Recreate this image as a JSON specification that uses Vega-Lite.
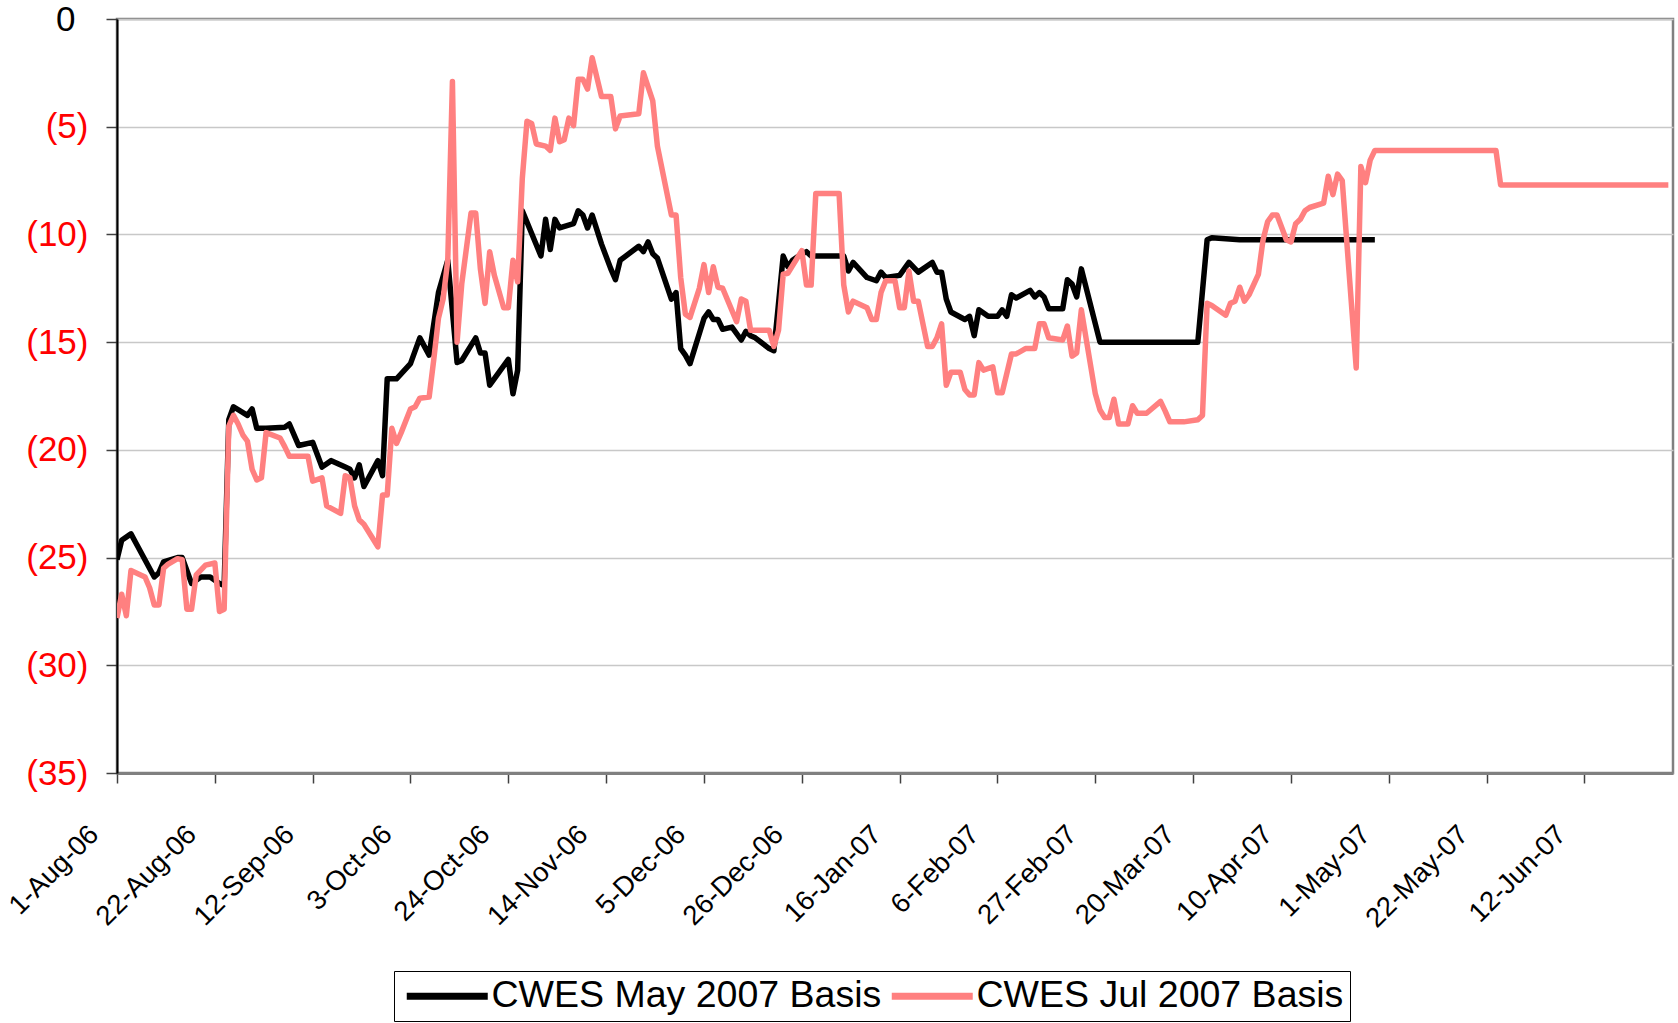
{
  "$schema": "https://vega.github.io/schema/vega-lite/v6.json",
  "width": 1556,
  "height": 754,
  "autosize": "none",
  "padding": {"left": 117, "top": 19, "right": 5, "bottom": 250},
  "background": "white",
  "config": {
    "font": "Liberation Sans",
    "view": {"stroke": "#808080", "strokeWidth": 2.5}
  },
  "data": {
    "values": [
      {"series": "CWES May 2007 Basis", "date": "2006-08-01", "basis": -25.1},
      {"series": "CWES May 2007 Basis", "date": "2006-08-02", "basis": -24.2},
      {"series": "CWES May 2007 Basis", "date": "2006-08-04", "basis": -23.9},
      {"series": "CWES May 2007 Basis", "date": "2006-08-05", "basis": -24.3},
      {"series": "CWES May 2007 Basis", "date": "2006-08-07", "basis": -25.1},
      {"series": "CWES May 2007 Basis", "date": "2006-08-09", "basis": -25.9},
      {"series": "CWES May 2007 Basis", "date": "2006-08-10", "basis": -25.7},
      {"series": "CWES May 2007 Basis", "date": "2006-08-11", "basis": -25.2},
      {"series": "CWES May 2007 Basis", "date": "2006-08-14", "basis": -25.0},
      {"series": "CWES May 2007 Basis", "date": "2006-08-15", "basis": -25.0},
      {"series": "CWES May 2007 Basis", "date": "2006-08-17", "basis": -26.2},
      {"series": "CWES May 2007 Basis", "date": "2006-08-19", "basis": -25.9},
      {"series": "CWES May 2007 Basis", "date": "2006-08-21", "basis": -25.9},
      {"series": "CWES May 2007 Basis", "date": "2006-08-23", "basis": -26.2},
      {"series": "CWES May 2007 Basis", "date": "2006-08-24", "basis": -26.3},
      {"series": "CWES May 2007 Basis", "date": "2006-08-25", "basis": -18.6},
      {"series": "CWES May 2007 Basis", "date": "2006-08-26", "basis": -18.0},
      {"series": "CWES May 2007 Basis", "date": "2006-08-29", "basis": -18.4},
      {"series": "CWES May 2007 Basis", "date": "2006-08-30", "basis": -18.1},
      {"series": "CWES May 2007 Basis", "date": "2006-08-31", "basis": -19.0},
      {"series": "CWES May 2007 Basis", "date": "2006-09-02", "basis": -19.0},
      {"series": "CWES May 2007 Basis", "date": "2006-09-06", "basis": -18.95},
      {"series": "CWES May 2007 Basis", "date": "2006-09-07", "basis": -18.8},
      {"series": "CWES May 2007 Basis", "date": "2006-09-09", "basis": -19.8},
      {"series": "CWES May 2007 Basis", "date": "2006-09-12", "basis": -19.65},
      {"series": "CWES May 2007 Basis", "date": "2006-09-14", "basis": -20.8},
      {"series": "CWES May 2007 Basis", "date": "2006-09-16", "basis": -20.5},
      {"series": "CWES May 2007 Basis", "date": "2006-09-19", "basis": -20.8},
      {"series": "CWES May 2007 Basis", "date": "2006-09-20", "basis": -20.9},
      {"series": "CWES May 2007 Basis", "date": "2006-09-21", "basis": -21.3},
      {"series": "CWES May 2007 Basis", "date": "2006-09-22", "basis": -20.7},
      {"series": "CWES May 2007 Basis", "date": "2006-09-23", "basis": -21.7},
      {"series": "CWES May 2007 Basis", "date": "2006-09-26", "basis": -20.5},
      {"series": "CWES May 2007 Basis", "date": "2006-09-27", "basis": -21.2},
      {"series": "CWES May 2007 Basis", "date": "2006-09-28", "basis": -16.7},
      {"series": "CWES May 2007 Basis", "date": "2006-09-30", "basis": -16.7},
      {"series": "CWES May 2007 Basis", "date": "2006-10-03", "basis": -16.0},
      {"series": "CWES May 2007 Basis", "date": "2006-10-05", "basis": -14.8},
      {"series": "CWES May 2007 Basis", "date": "2006-10-07", "basis": -15.6},
      {"series": "CWES May 2007 Basis", "date": "2006-10-09", "basis": -12.7},
      {"series": "CWES May 2007 Basis", "date": "2006-10-11", "basis": -11.2},
      {"series": "CWES May 2007 Basis", "date": "2006-10-13", "basis": -15.95},
      {"series": "CWES May 2007 Basis", "date": "2006-10-14", "basis": -15.85},
      {"series": "CWES May 2007 Basis", "date": "2006-10-17", "basis": -14.8},
      {"series": "CWES May 2007 Basis", "date": "2006-10-18", "basis": -15.5},
      {"series": "CWES May 2007 Basis", "date": "2006-10-19", "basis": -15.5},
      {"series": "CWES May 2007 Basis", "date": "2006-10-20", "basis": -17.0},
      {"series": "CWES May 2007 Basis", "date": "2006-10-24", "basis": -15.8},
      {"series": "CWES May 2007 Basis", "date": "2006-10-25", "basis": -17.4},
      {"series": "CWES May 2007 Basis", "date": "2006-10-26", "basis": -16.3},
      {"series": "CWES May 2007 Basis", "date": "2006-10-27", "basis": -8.9},
      {"series": "CWES May 2007 Basis", "date": "2006-10-31", "basis": -11.0},
      {"series": "CWES May 2007 Basis", "date": "2006-11-01", "basis": -9.3},
      {"series": "CWES May 2007 Basis", "date": "2006-11-02", "basis": -10.7},
      {"series": "CWES May 2007 Basis", "date": "2006-11-03", "basis": -9.3},
      {"series": "CWES May 2007 Basis", "date": "2006-11-04", "basis": -9.7},
      {"series": "CWES May 2007 Basis", "date": "2006-11-07", "basis": -9.5},
      {"series": "CWES May 2007 Basis", "date": "2006-11-08", "basis": -8.9},
      {"series": "CWES May 2007 Basis", "date": "2006-11-09", "basis": -9.1},
      {"series": "CWES May 2007 Basis", "date": "2006-11-10", "basis": -9.7},
      {"series": "CWES May 2007 Basis", "date": "2006-11-11", "basis": -9.1},
      {"series": "CWES May 2007 Basis", "date": "2006-11-13", "basis": -10.45},
      {"series": "CWES May 2007 Basis", "date": "2006-11-15", "basis": -11.6},
      {"series": "CWES May 2007 Basis", "date": "2006-11-16", "basis": -12.1},
      {"series": "CWES May 2007 Basis", "date": "2006-11-17", "basis": -11.2},
      {"series": "CWES May 2007 Basis", "date": "2006-11-21", "basis": -10.55},
      {"series": "CWES May 2007 Basis", "date": "2006-11-22", "basis": -10.8},
      {"series": "CWES May 2007 Basis", "date": "2006-11-23", "basis": -10.35},
      {"series": "CWES May 2007 Basis", "date": "2006-11-24", "basis": -10.9},
      {"series": "CWES May 2007 Basis", "date": "2006-11-25", "basis": -11.1},
      {"series": "CWES May 2007 Basis", "date": "2006-11-28", "basis": -13.0},
      {"series": "CWES May 2007 Basis", "date": "2006-11-29", "basis": -12.7},
      {"series": "CWES May 2007 Basis", "date": "2006-11-30", "basis": -15.3},
      {"series": "CWES May 2007 Basis", "date": "2006-12-01", "basis": -15.6},
      {"series": "CWES May 2007 Basis", "date": "2006-12-02", "basis": -16.0},
      {"series": "CWES May 2007 Basis", "date": "2006-12-05", "basis": -13.9},
      {"series": "CWES May 2007 Basis", "date": "2006-12-06", "basis": -13.6},
      {"series": "CWES May 2007 Basis", "date": "2006-12-07", "basis": -13.95},
      {"series": "CWES May 2007 Basis", "date": "2006-12-08", "basis": -13.95},
      {"series": "CWES May 2007 Basis", "date": "2006-12-09", "basis": -14.4},
      {"series": "CWES May 2007 Basis", "date": "2006-12-11", "basis": -14.3},
      {"series": "CWES May 2007 Basis", "date": "2006-12-13", "basis": -14.9},
      {"series": "CWES May 2007 Basis", "date": "2006-12-14", "basis": -14.5},
      {"series": "CWES May 2007 Basis", "date": "2006-12-15", "basis": -14.7},
      {"series": "CWES May 2007 Basis", "date": "2006-12-16", "basis": -14.8},
      {"series": "CWES May 2007 Basis", "date": "2006-12-19", "basis": -15.3},
      {"series": "CWES May 2007 Basis", "date": "2006-12-20", "basis": -15.4},
      {"series": "CWES May 2007 Basis", "date": "2006-12-22", "basis": -11.0},
      {"series": "CWES May 2007 Basis", "date": "2006-12-23", "basis": -11.5},
      {"series": "CWES May 2007 Basis", "date": "2006-12-24", "basis": -11.2},
      {"series": "CWES May 2007 Basis", "date": "2006-12-26", "basis": -10.9},
      {"series": "CWES May 2007 Basis", "date": "2006-12-27", "basis": -10.8},
      {"series": "CWES May 2007 Basis", "date": "2006-12-28", "basis": -11.0},
      {"series": "CWES May 2007 Basis", "date": "2007-01-04", "basis": -11.0},
      {"series": "CWES May 2007 Basis", "date": "2007-01-05", "basis": -11.7},
      {"series": "CWES May 2007 Basis", "date": "2007-01-06", "basis": -11.3},
      {"series": "CWES May 2007 Basis", "date": "2007-01-09", "basis": -12.0},
      {"series": "CWES May 2007 Basis", "date": "2007-01-11", "basis": -12.15},
      {"series": "CWES May 2007 Basis", "date": "2007-01-12", "basis": -11.75},
      {"series": "CWES May 2007 Basis", "date": "2007-01-13", "basis": -12.0},
      {"series": "CWES May 2007 Basis", "date": "2007-01-16", "basis": -11.9},
      {"series": "CWES May 2007 Basis", "date": "2007-01-18", "basis": -11.3},
      {"series": "CWES May 2007 Basis", "date": "2007-01-20", "basis": -11.75},
      {"series": "CWES May 2007 Basis", "date": "2007-01-23", "basis": -11.3},
      {"series": "CWES May 2007 Basis", "date": "2007-01-24", "basis": -11.75},
      {"series": "CWES May 2007 Basis", "date": "2007-01-25", "basis": -11.75},
      {"series": "CWES May 2007 Basis", "date": "2007-01-26", "basis": -13.0},
      {"series": "CWES May 2007 Basis", "date": "2007-01-27", "basis": -13.6},
      {"series": "CWES May 2007 Basis", "date": "2007-01-30", "basis": -13.95},
      {"series": "CWES May 2007 Basis", "date": "2007-01-31", "basis": -13.8},
      {"series": "CWES May 2007 Basis", "date": "2007-02-01", "basis": -14.7},
      {"series": "CWES May 2007 Basis", "date": "2007-02-02", "basis": -13.5},
      {"series": "CWES May 2007 Basis", "date": "2007-02-04", "basis": -13.8},
      {"series": "CWES May 2007 Basis", "date": "2007-02-06", "basis": -13.8},
      {"series": "CWES May 2007 Basis", "date": "2007-02-07", "basis": -13.5},
      {"series": "CWES May 2007 Basis", "date": "2007-02-08", "basis": -13.8},
      {"series": "CWES May 2007 Basis", "date": "2007-02-09", "basis": -12.8},
      {"series": "CWES May 2007 Basis", "date": "2007-02-10", "basis": -12.95},
      {"series": "CWES May 2007 Basis", "date": "2007-02-13", "basis": -12.6},
      {"series": "CWES May 2007 Basis", "date": "2007-02-14", "basis": -12.9},
      {"series": "CWES May 2007 Basis", "date": "2007-02-15", "basis": -12.7},
      {"series": "CWES May 2007 Basis", "date": "2007-02-16", "basis": -12.9},
      {"series": "CWES May 2007 Basis", "date": "2007-02-17", "basis": -13.45},
      {"series": "CWES May 2007 Basis", "date": "2007-02-20", "basis": -13.45},
      {"series": "CWES May 2007 Basis", "date": "2007-02-21", "basis": -12.1},
      {"series": "CWES May 2007 Basis", "date": "2007-02-22", "basis": -12.3},
      {"series": "CWES May 2007 Basis", "date": "2007-02-23", "basis": -12.9},
      {"series": "CWES May 2007 Basis", "date": "2007-02-24", "basis": -11.6},
      {"series": "CWES May 2007 Basis", "date": "2007-02-28", "basis": -15.0},
      {"series": "CWES May 2007 Basis", "date": "2007-03-21", "basis": -15.0},
      {"series": "CWES May 2007 Basis", "date": "2007-03-23", "basis": -10.25},
      {"series": "CWES May 2007 Basis", "date": "2007-03-24", "basis": -10.15},
      {"series": "CWES May 2007 Basis", "date": "2007-03-30", "basis": -10.25},
      {"series": "CWES May 2007 Basis", "date": "2007-04-28", "basis": -10.25},
      {"series": "CWES Jul 2007 Basis", "date": "2006-08-01", "basis": -27.8},
      {"series": "CWES Jul 2007 Basis", "date": "2006-08-02", "basis": -26.7},
      {"series": "CWES Jul 2007 Basis", "date": "2006-08-03", "basis": -27.7},
      {"series": "CWES Jul 2007 Basis", "date": "2006-08-04", "basis": -25.6},
      {"series": "CWES Jul 2007 Basis", "date": "2006-08-07", "basis": -25.9},
      {"series": "CWES Jul 2007 Basis", "date": "2006-08-08", "basis": -26.4},
      {"series": "CWES Jul 2007 Basis", "date": "2006-08-09", "basis": -27.2},
      {"series": "CWES Jul 2007 Basis", "date": "2006-08-10", "basis": -27.2},
      {"series": "CWES Jul 2007 Basis", "date": "2006-08-11", "basis": -25.5},
      {"series": "CWES Jul 2007 Basis", "date": "2006-08-12", "basis": -25.3},
      {"series": "CWES Jul 2007 Basis", "date": "2006-08-14", "basis": -25.05},
      {"series": "CWES Jul 2007 Basis", "date": "2006-08-15", "basis": -25.1},
      {"series": "CWES Jul 2007 Basis", "date": "2006-08-16", "basis": -27.4},
      {"series": "CWES Jul 2007 Basis", "date": "2006-08-17", "basis": -27.4},
      {"series": "CWES Jul 2007 Basis", "date": "2006-08-18", "basis": -25.8},
      {"series": "CWES Jul 2007 Basis", "date": "2006-08-20", "basis": -25.35},
      {"series": "CWES Jul 2007 Basis", "date": "2006-08-22", "basis": -25.25},
      {"series": "CWES Jul 2007 Basis", "date": "2006-08-23", "basis": -27.5},
      {"series": "CWES Jul 2007 Basis", "date": "2006-08-24", "basis": -27.4},
      {"series": "CWES Jul 2007 Basis", "date": "2006-08-25", "basis": -18.9},
      {"series": "CWES Jul 2007 Basis", "date": "2006-08-26", "basis": -18.4},
      {"series": "CWES Jul 2007 Basis", "date": "2006-08-27", "basis": -18.8},
      {"series": "CWES Jul 2007 Basis", "date": "2006-08-28", "basis": -19.3},
      {"series": "CWES Jul 2007 Basis", "date": "2006-08-29", "basis": -19.6},
      {"series": "CWES Jul 2007 Basis", "date": "2006-08-30", "basis": -20.9},
      {"series": "CWES Jul 2007 Basis", "date": "2006-08-31", "basis": -21.4},
      {"series": "CWES Jul 2007 Basis", "date": "2006-09-01", "basis": -21.3},
      {"series": "CWES Jul 2007 Basis", "date": "2006-09-02", "basis": -19.2},
      {"series": "CWES Jul 2007 Basis", "date": "2006-09-05", "basis": -19.45},
      {"series": "CWES Jul 2007 Basis", "date": "2006-09-06", "basis": -19.85},
      {"series": "CWES Jul 2007 Basis", "date": "2006-09-07", "basis": -20.3},
      {"series": "CWES Jul 2007 Basis", "date": "2006-09-11", "basis": -20.3},
      {"series": "CWES Jul 2007 Basis", "date": "2006-09-12", "basis": -21.45},
      {"series": "CWES Jul 2007 Basis", "date": "2006-09-14", "basis": -21.3},
      {"series": "CWES Jul 2007 Basis", "date": "2006-09-15", "basis": -22.6},
      {"series": "CWES Jul 2007 Basis", "date": "2006-09-18", "basis": -22.95},
      {"series": "CWES Jul 2007 Basis", "date": "2006-09-19", "basis": -21.2},
      {"series": "CWES Jul 2007 Basis", "date": "2006-09-20", "basis": -21.3},
      {"series": "CWES Jul 2007 Basis", "date": "2006-09-21", "basis": -22.6},
      {"series": "CWES Jul 2007 Basis", "date": "2006-09-22", "basis": -23.25},
      {"series": "CWES Jul 2007 Basis", "date": "2006-09-23", "basis": -23.45},
      {"series": "CWES Jul 2007 Basis", "date": "2006-09-26", "basis": -24.5},
      {"series": "CWES Jul 2007 Basis", "date": "2006-09-27", "basis": -22.1},
      {"series": "CWES Jul 2007 Basis", "date": "2006-09-28", "basis": -22.1},
      {"series": "CWES Jul 2007 Basis", "date": "2006-09-29", "basis": -19.0},
      {"series": "CWES Jul 2007 Basis", "date": "2006-09-30", "basis": -19.7},
      {"series": "CWES Jul 2007 Basis", "date": "2006-10-01", "basis": -19.2},
      {"series": "CWES Jul 2007 Basis", "date": "2006-10-03", "basis": -18.1},
      {"series": "CWES Jul 2007 Basis", "date": "2006-10-04", "basis": -18.0},
      {"series": "CWES Jul 2007 Basis", "date": "2006-10-05", "basis": -17.6},
      {"series": "CWES Jul 2007 Basis", "date": "2006-10-07", "basis": -17.55},
      {"series": "CWES Jul 2007 Basis", "date": "2006-10-08", "basis": -15.8},
      {"series": "CWES Jul 2007 Basis", "date": "2006-10-09", "basis": -13.9},
      {"series": "CWES Jul 2007 Basis", "date": "2006-10-10", "basis": -13.0},
      {"series": "CWES Jul 2007 Basis", "date": "2006-10-11", "basis": -11.2},
      {"series": "CWES Jul 2007 Basis", "date": "2006-10-12", "basis": -2.9},
      {"series": "CWES Jul 2007 Basis", "date": "2006-10-13", "basis": -15.0},
      {"series": "CWES Jul 2007 Basis", "date": "2006-10-14", "basis": -12.3},
      {"series": "CWES Jul 2007 Basis", "date": "2006-10-16", "basis": -9.0},
      {"series": "CWES Jul 2007 Basis", "date": "2006-10-17", "basis": -9.0},
      {"series": "CWES Jul 2007 Basis", "date": "2006-10-18", "basis": -11.6},
      {"series": "CWES Jul 2007 Basis", "date": "2006-10-19", "basis": -13.2},
      {"series": "CWES Jul 2007 Basis", "date": "2006-10-20", "basis": -10.8},
      {"series": "CWES Jul 2007 Basis", "date": "2006-10-21", "basis": -11.9},
      {"series": "CWES Jul 2007 Basis", "date": "2006-10-23", "basis": -13.4},
      {"series": "CWES Jul 2007 Basis", "date": "2006-10-24", "basis": -13.4},
      {"series": "CWES Jul 2007 Basis", "date": "2006-10-25", "basis": -11.2},
      {"series": "CWES Jul 2007 Basis", "date": "2006-10-26", "basis": -12.2},
      {"series": "CWES Jul 2007 Basis", "date": "2006-10-27", "basis": -7.4},
      {"series": "CWES Jul 2007 Basis", "date": "2006-10-28", "basis": -4.75},
      {"series": "CWES Jul 2007 Basis", "date": "2006-10-29", "basis": -4.85},
      {"series": "CWES Jul 2007 Basis", "date": "2006-10-30", "basis": -5.8},
      {"series": "CWES Jul 2007 Basis", "date": "2006-11-01", "basis": -5.9},
      {"series": "CWES Jul 2007 Basis", "date": "2006-11-02", "basis": -6.1},
      {"series": "CWES Jul 2007 Basis", "date": "2006-11-03", "basis": -4.6},
      {"series": "CWES Jul 2007 Basis", "date": "2006-11-04", "basis": -5.7},
      {"series": "CWES Jul 2007 Basis", "date": "2006-11-05", "basis": -5.6},
      {"series": "CWES Jul 2007 Basis", "date": "2006-11-06", "basis": -4.6},
      {"series": "CWES Jul 2007 Basis", "date": "2006-11-07", "basis": -4.95},
      {"series": "CWES Jul 2007 Basis", "date": "2006-11-08", "basis": -2.8},
      {"series": "CWES Jul 2007 Basis", "date": "2006-11-09", "basis": -2.8},
      {"series": "CWES Jul 2007 Basis", "date": "2006-11-10", "basis": -3.25},
      {"series": "CWES Jul 2007 Basis", "date": "2006-11-11", "basis": -1.8},
      {"series": "CWES Jul 2007 Basis", "date": "2006-11-13", "basis": -3.6},
      {"series": "CWES Jul 2007 Basis", "date": "2006-11-15", "basis": -3.6},
      {"series": "CWES Jul 2007 Basis", "date": "2006-11-16", "basis": -5.1},
      {"series": "CWES Jul 2007 Basis", "date": "2006-11-17", "basis": -4.5},
      {"series": "CWES Jul 2007 Basis", "date": "2006-11-21", "basis": -4.4},
      {"series": "CWES Jul 2007 Basis", "date": "2006-11-22", "basis": -2.5},
      {"series": "CWES Jul 2007 Basis", "date": "2006-11-23", "basis": -3.15},
      {"series": "CWES Jul 2007 Basis", "date": "2006-11-24", "basis": -3.8},
      {"series": "CWES Jul 2007 Basis", "date": "2006-11-25", "basis": -5.9},
      {"series": "CWES Jul 2007 Basis", "date": "2006-11-28", "basis": -9.1},
      {"series": "CWES Jul 2007 Basis", "date": "2006-11-29", "basis": -9.1},
      {"series": "CWES Jul 2007 Basis", "date": "2006-11-30", "basis": -12.0},
      {"series": "CWES Jul 2007 Basis", "date": "2006-12-01", "basis": -13.7},
      {"series": "CWES Jul 2007 Basis", "date": "2006-12-02", "basis": -13.85},
      {"series": "CWES Jul 2007 Basis", "date": "2006-12-04", "basis": -12.5},
      {"series": "CWES Jul 2007 Basis", "date": "2006-12-05", "basis": -11.4},
      {"series": "CWES Jul 2007 Basis", "date": "2006-12-06", "basis": -12.7},
      {"series": "CWES Jul 2007 Basis", "date": "2006-12-07", "basis": -11.5},
      {"series": "CWES Jul 2007 Basis", "date": "2006-12-08", "basis": -12.45},
      {"series": "CWES Jul 2007 Basis", "date": "2006-12-09", "basis": -12.5},
      {"series": "CWES Jul 2007 Basis", "date": "2006-12-12", "basis": -14.05},
      {"series": "CWES Jul 2007 Basis", "date": "2006-12-13", "basis": -13.0},
      {"series": "CWES Jul 2007 Basis", "date": "2006-12-14", "basis": -13.1},
      {"series": "CWES Jul 2007 Basis", "date": "2006-12-15", "basis": -14.45},
      {"series": "CWES Jul 2007 Basis", "date": "2006-12-19", "basis": -14.45},
      {"series": "CWES Jul 2007 Basis", "date": "2006-12-20", "basis": -15.2},
      {"series": "CWES Jul 2007 Basis", "date": "2006-12-21", "basis": -14.45},
      {"series": "CWES Jul 2007 Basis", "date": "2006-12-22", "basis": -11.85},
      {"series": "CWES Jul 2007 Basis", "date": "2006-12-23", "basis": -11.8},
      {"series": "CWES Jul 2007 Basis", "date": "2006-12-26", "basis": -10.75},
      {"series": "CWES Jul 2007 Basis", "date": "2006-12-27", "basis": -12.35},
      {"series": "CWES Jul 2007 Basis", "date": "2006-12-28", "basis": -12.35},
      {"series": "CWES Jul 2007 Basis", "date": "2006-12-29", "basis": -8.1},
      {"series": "CWES Jul 2007 Basis", "date": "2007-01-03", "basis": -8.1},
      {"series": "CWES Jul 2007 Basis", "date": "2007-01-04", "basis": -12.35},
      {"series": "CWES Jul 2007 Basis", "date": "2007-01-05", "basis": -13.6},
      {"series": "CWES Jul 2007 Basis", "date": "2007-01-06", "basis": -13.1},
      {"series": "CWES Jul 2007 Basis", "date": "2007-01-09", "basis": -13.4},
      {"series": "CWES Jul 2007 Basis", "date": "2007-01-10", "basis": -13.95},
      {"series": "CWES Jul 2007 Basis", "date": "2007-01-11", "basis": -13.95},
      {"series": "CWES Jul 2007 Basis", "date": "2007-01-12", "basis": -12.7},
      {"series": "CWES Jul 2007 Basis", "date": "2007-01-13", "basis": -12.15},
      {"series": "CWES Jul 2007 Basis", "date": "2007-01-15", "basis": -12.15},
      {"series": "CWES Jul 2007 Basis", "date": "2007-01-16", "basis": -13.4},
      {"series": "CWES Jul 2007 Basis", "date": "2007-01-17", "basis": -13.4},
      {"series": "CWES Jul 2007 Basis", "date": "2007-01-18", "basis": -11.7},
      {"series": "CWES Jul 2007 Basis", "date": "2007-01-19", "basis": -13.1},
      {"series": "CWES Jul 2007 Basis", "date": "2007-01-20", "basis": -13.1},
      {"series": "CWES Jul 2007 Basis", "date": "2007-01-22", "basis": -15.2},
      {"series": "CWES Jul 2007 Basis", "date": "2007-01-23", "basis": -15.2},
      {"series": "CWES Jul 2007 Basis", "date": "2007-01-24", "basis": -14.8},
      {"series": "CWES Jul 2007 Basis", "date": "2007-01-25", "basis": -14.15},
      {"series": "CWES Jul 2007 Basis", "date": "2007-01-26", "basis": -17.0},
      {"series": "CWES Jul 2007 Basis", "date": "2007-01-27", "basis": -16.4},
      {"series": "CWES Jul 2007 Basis", "date": "2007-01-29", "basis": -16.4},
      {"series": "CWES Jul 2007 Basis", "date": "2007-01-30", "basis": -17.2},
      {"series": "CWES Jul 2007 Basis", "date": "2007-01-31", "basis": -17.45},
      {"series": "CWES Jul 2007 Basis", "date": "2007-02-01", "basis": -17.45},
      {"series": "CWES Jul 2007 Basis", "date": "2007-02-02", "basis": -15.95},
      {"series": "CWES Jul 2007 Basis", "date": "2007-02-03", "basis": -16.3},
      {"series": "CWES Jul 2007 Basis", "date": "2007-02-05", "basis": -16.15},
      {"series": "CWES Jul 2007 Basis", "date": "2007-02-06", "basis": -17.35},
      {"series": "CWES Jul 2007 Basis", "date": "2007-02-07", "basis": -17.35},
      {"series": "CWES Jul 2007 Basis", "date": "2007-02-09", "basis": -15.55},
      {"series": "CWES Jul 2007 Basis", "date": "2007-02-10", "basis": -15.55},
      {"series": "CWES Jul 2007 Basis", "date": "2007-02-12", "basis": -15.3},
      {"series": "CWES Jul 2007 Basis", "date": "2007-02-14", "basis": -15.3},
      {"series": "CWES Jul 2007 Basis", "date": "2007-02-15", "basis": -14.15},
      {"series": "CWES Jul 2007 Basis", "date": "2007-02-16", "basis": -14.15},
      {"series": "CWES Jul 2007 Basis", "date": "2007-02-17", "basis": -14.8},
      {"series": "CWES Jul 2007 Basis", "date": "2007-02-20", "basis": -14.9},
      {"series": "CWES Jul 2007 Basis", "date": "2007-02-21", "basis": -14.25},
      {"series": "CWES Jul 2007 Basis", "date": "2007-02-22", "basis": -15.65},
      {"series": "CWES Jul 2007 Basis", "date": "2007-02-23", "basis": -15.5},
      {"series": "CWES Jul 2007 Basis", "date": "2007-02-24", "basis": -13.5},
      {"series": "CWES Jul 2007 Basis", "date": "2007-02-27", "basis": -17.4},
      {"series": "CWES Jul 2007 Basis", "date": "2007-02-28", "basis": -18.15},
      {"series": "CWES Jul 2007 Basis", "date": "2007-03-01", "basis": -18.5},
      {"series": "CWES Jul 2007 Basis", "date": "2007-03-02", "basis": -18.5},
      {"series": "CWES Jul 2007 Basis", "date": "2007-03-03", "basis": -17.65},
      {"series": "CWES Jul 2007 Basis", "date": "2007-03-04", "basis": -18.8},
      {"series": "CWES Jul 2007 Basis", "date": "2007-03-06", "basis": -18.8},
      {"series": "CWES Jul 2007 Basis", "date": "2007-03-07", "basis": -17.95},
      {"series": "CWES Jul 2007 Basis", "date": "2007-03-08", "basis": -18.3},
      {"series": "CWES Jul 2007 Basis", "date": "2007-03-10", "basis": -18.3},
      {"series": "CWES Jul 2007 Basis", "date": "2007-03-13", "basis": -17.75},
      {"series": "CWES Jul 2007 Basis", "date": "2007-03-14", "basis": -18.2},
      {"series": "CWES Jul 2007 Basis", "date": "2007-03-15", "basis": -18.7},
      {"series": "CWES Jul 2007 Basis", "date": "2007-03-18", "basis": -18.7},
      {"series": "CWES Jul 2007 Basis", "date": "2007-03-21", "basis": -18.6},
      {"series": "CWES Jul 2007 Basis", "date": "2007-03-22", "basis": -18.4},
      {"series": "CWES Jul 2007 Basis", "date": "2007-03-23", "basis": -13.2},
      {"series": "CWES Jul 2007 Basis", "date": "2007-03-24", "basis": -13.3},
      {"series": "CWES Jul 2007 Basis", "date": "2007-03-27", "basis": -13.75},
      {"series": "CWES Jul 2007 Basis", "date": "2007-03-28", "basis": -13.2},
      {"series": "CWES Jul 2007 Basis", "date": "2007-03-29", "basis": -13.1},
      {"series": "CWES Jul 2007 Basis", "date": "2007-03-30", "basis": -12.45},
      {"series": "CWES Jul 2007 Basis", "date": "2007-03-31", "basis": -13.1},
      {"series": "CWES Jul 2007 Basis", "date": "2007-04-01", "basis": -12.8},
      {"series": "CWES Jul 2007 Basis", "date": "2007-04-03", "basis": -11.85},
      {"series": "CWES Jul 2007 Basis", "date": "2007-04-04", "basis": -10.25},
      {"series": "CWES Jul 2007 Basis", "date": "2007-04-05", "basis": -9.4},
      {"series": "CWES Jul 2007 Basis", "date": "2007-04-06", "basis": -9.1},
      {"series": "CWES Jul 2007 Basis", "date": "2007-04-07", "basis": -9.1},
      {"series": "CWES Jul 2007 Basis", "date": "2007-04-09", "basis": -10.25},
      {"series": "CWES Jul 2007 Basis", "date": "2007-04-10", "basis": -10.35},
      {"series": "CWES Jul 2007 Basis", "date": "2007-04-11", "basis": -9.5},
      {"series": "CWES Jul 2007 Basis", "date": "2007-04-12", "basis": -9.3},
      {"series": "CWES Jul 2007 Basis", "date": "2007-04-13", "basis": -8.9},
      {"series": "CWES Jul 2007 Basis", "date": "2007-04-14", "basis": -8.75},
      {"series": "CWES Jul 2007 Basis", "date": "2007-04-17", "basis": -8.55},
      {"series": "CWES Jul 2007 Basis", "date": "2007-04-18", "basis": -7.3},
      {"series": "CWES Jul 2007 Basis", "date": "2007-04-19", "basis": -8.15},
      {"series": "CWES Jul 2007 Basis", "date": "2007-04-20", "basis": -7.2},
      {"series": "CWES Jul 2007 Basis", "date": "2007-04-21", "basis": -7.5},
      {"series": "CWES Jul 2007 Basis", "date": "2007-04-24", "basis": -16.2},
      {"series": "CWES Jul 2007 Basis", "date": "2007-04-25", "basis": -6.85},
      {"series": "CWES Jul 2007 Basis", "date": "2007-04-26", "basis": -7.6},
      {"series": "CWES Jul 2007 Basis", "date": "2007-04-27", "basis": -6.55},
      {"series": "CWES Jul 2007 Basis", "date": "2007-04-28", "basis": -6.1},
      {"series": "CWES Jul 2007 Basis", "date": "2007-05-24", "basis": -6.1},
      {"series": "CWES Jul 2007 Basis", "date": "2007-05-25", "basis": -7.7},
      {"series": "CWES Jul 2007 Basis", "date": "2007-06-30", "basis": -7.7}
    ]
  },
  "mark": {"type": "line", "strokeWidth": 5.5, "strokeJoin": "round", "clip": true},
  "encoding": {
    "x": {
      "field": "date",
      "type": "temporal",
      "scale": {
        "type": "utc",
        "nice": false,
        "domain": [
          {"year": 2006, "month": 8, "date": 1, "utc": true},
          {"year": 2007, "month": 7, "date": 1, "utc": true}
        ]
      },
      "axis": {
        "title": null,
        "grid": false,
        "values": [
          {"year": 2006, "month": 8, "date": 1, "utc": true},
          {"year": 2006, "month": 8, "date": 22, "utc": true},
          {"year": 2006, "month": 9, "date": 12, "utc": true},
          {"year": 2006, "month": 10, "date": 3, "utc": true},
          {"year": 2006, "month": 10, "date": 24, "utc": true},
          {"year": 2006, "month": 11, "date": 14, "utc": true},
          {"year": 2006, "month": 12, "date": 5, "utc": true},
          {"year": 2006, "month": 12, "date": 26, "utc": true},
          {"year": 2007, "month": 1, "date": 16, "utc": true},
          {"year": 2007, "month": 2, "date": 6, "utc": true},
          {"year": 2007, "month": 2, "date": 27, "utc": true},
          {"year": 2007, "month": 3, "date": 20, "utc": true},
          {"year": 2007, "month": 4, "date": 10, "utc": true},
          {"year": 2007, "month": 5, "date": 1, "utc": true},
          {"year": 2007, "month": 5, "date": 22, "utc": true},
          {"year": 2007, "month": 6, "date": 12, "utc": true}
        ],
        "labelExpr": "utcFormat(datum.value, '%-d-%b-%y')",
        "labelAngle": -45,
        "labelFont": "Liberation Sans",
        "labelFontSize": 27.5,
        "labelColor": "#000000",
        "labelPadding": 37,
        "labelOffset": -33,
        "labelOverlap": false,
        "labelFlush": false,
        "tickSize": 10,
        "tickWidth": 1.5,
        "tickColor": "#404040",
        "domainColor": "#808080",
        "domainWidth": 3
      }
    },
    "y": {
      "field": "basis",
      "type": "quantitative",
      "scale": {"domain": [-35, 0], "nice": false, "zero": false},
      "axis": {
        "title": null,
        "values": [-35, -30, -25, -20, -15, -10, -5, 0],
        "labelExpr": "datum.value == 0 ? '0' : '(' + abs(datum.value) + ')'",
        "labelFont": "Liberation Sans",
        "labelFontSize": 35,
        "labelColor": {"condition": {"test": "datum.value < 0", "value": "#FF0000"}, "value": "#000000"},
        "labelPadding": {"condition": {"test": "datum.value == 0", "value": 31}, "value": 18},
        "labelOverlap": false,
        "labelFlush": false,
        "tickSize": 11,
        "tickWidth": 1.5,
        "tickColor": "#404040",
        "domainColor": "#000000",
        "domainWidth": 2,
        "grid": true,
        "gridColor": "#C8C8C8",
        "gridWidth": 1.5
      }
    },
    "color": {
      "field": "series",
      "type": "nominal",
      "scale": {
        "domain": ["CWES May 2007 Basis", "CWES Jul 2007 Basis"],
        "range": ["#000000", "#FF8080"]
      },
      "legend": {
        "title": null,
        "orient": "none",
        "legendX": 277,
        "legendY": 952,
        "direction": "horizontal",
        "symbolType": "M-0.8,0H4.6",
        "symbolSize": 900,
        "symbolStrokeWidth": 7,
        "labelFont": "Liberation Sans",
        "labelFontSize": 37.5,
        "labelColor": "#000000",
        "labelOffset": 54,
        "labelLimit": 0,
        "columnPadding": -5,
        "padding": 6,
        "strokeColor": "#000000",
        "fillColor": "#FFFFFF"
      }
    }
  }
}
